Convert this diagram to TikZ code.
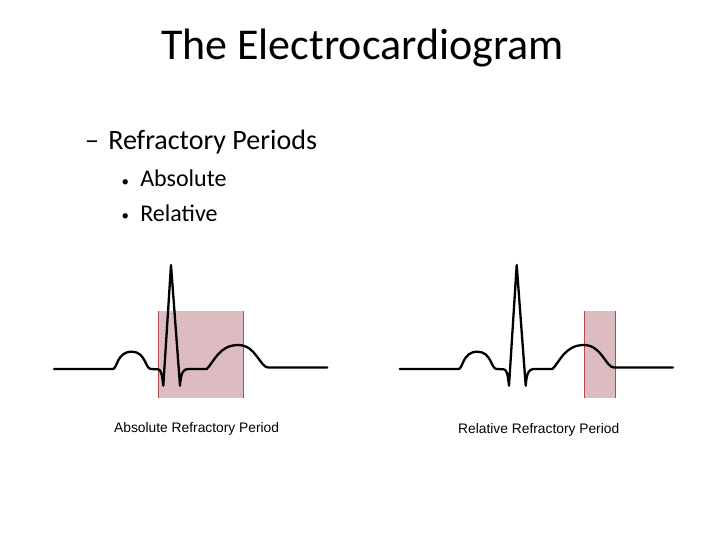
\documentclass[tikz,border=0pt]{standalone}
\usepackage{fontspec}
\setmainfont{Carlito}
\newfontfamily\labfont{Liberation Sans}
\definecolor{boxfill}{HTML}{DCBCC0}
\definecolor{boxline}{HTML}{B5474F}
\tikzset{
  ecg/.style={line width=2.3pt, black, line join=round, line cap=round},
  period/.style={fill=boxfill, draw=none},
  periodedge/.style={draw=boxline, line width=1.2pt},
  slidetext/.style={anchor=base west, inner sep=0pt, outer sep=0pt},
  lvlone/.style={slidetext, font=\fontsize{28}{34}\selectfont},
  lvltwo/.style={slidetext, font=\fontsize{24}{29}\selectfont},
  bulletmark/.style={slidetext, font=\fontsize{15}{18}\selectfont},
  ecglabel/.style={anchor=base west, inner sep=0pt, font=\labfont\fontsize{13.8}{16}\selectfont}
}
\newcommand{\ecgwave}{%
  (54,369) -- (112.7,369) .. controls (117.5,369) and (116.5,351.7) .. (131.7,351.7)
  .. controls (146,351.7) and (145,369) .. (151,369) -- (158,369.3)
  .. controls (161,369.5) and (162,374) .. (163.3,385.7)
  -- (171,265) -- (180,385.7) .. controls (181,373) and (183,369) .. (188,369)
  -- (206.7,369) .. controls (214,362) and (219,345) .. (238.3,345)
  .. controls (256,345) and (260,367.5) .. (268.3,367.5) -- (327.3,367.5)}
\begin{document}
\begin{tikzpicture}[x=1pt,y=-1pt]
\useasboundingbox (0,0) rectangle (728,546);
% text
\node[slidetext, font=\fontsize{44}{52}\selectfont] (title) at (161,59.3) {The Electrocardiogram};
\node[lvlone] (dash) at (85,149.3) {–};
\node[lvlone] (refr) at (108.3,149.3) {Refractory Periods};
\node[bulletmark] (b1) at (121.5,186.5) {•};
\node[lvltwo] (abs) at (140.3,186.7) {Absolute};
\node[bulletmark] (b2) at (121.5,220) {•};
\node[lvltwo] (rel) at (140.3,221.7) {Relative};
% left panel
\fill[period] (158.3,311) rectangle (243.3,398.3);
\draw[periodedge] (158.3,311) -- (158.3,398.3);
\draw[periodedge] (243.3,311) -- (243.3,398.3);
\draw[ecg] \ecgwave;
\node[ecglabel] (lab1) at (114,432.7) {Absolute Refractory Period};
% right panel
\fill[period] (584.3,311) rectangle (615.7,398.3);
\draw[periodedge] (584.3,311) -- (584.3,398.3);
\draw[periodedge] (615.7,311) -- (615.7,398.3);
\begin{scope}[xshift=345.7pt]
\draw[ecg] \ecgwave;
\end{scope}
\node[ecglabel] (lab2) at (458,433.5) {Relative Refractory Period};
\end{tikzpicture}
\end{document}
